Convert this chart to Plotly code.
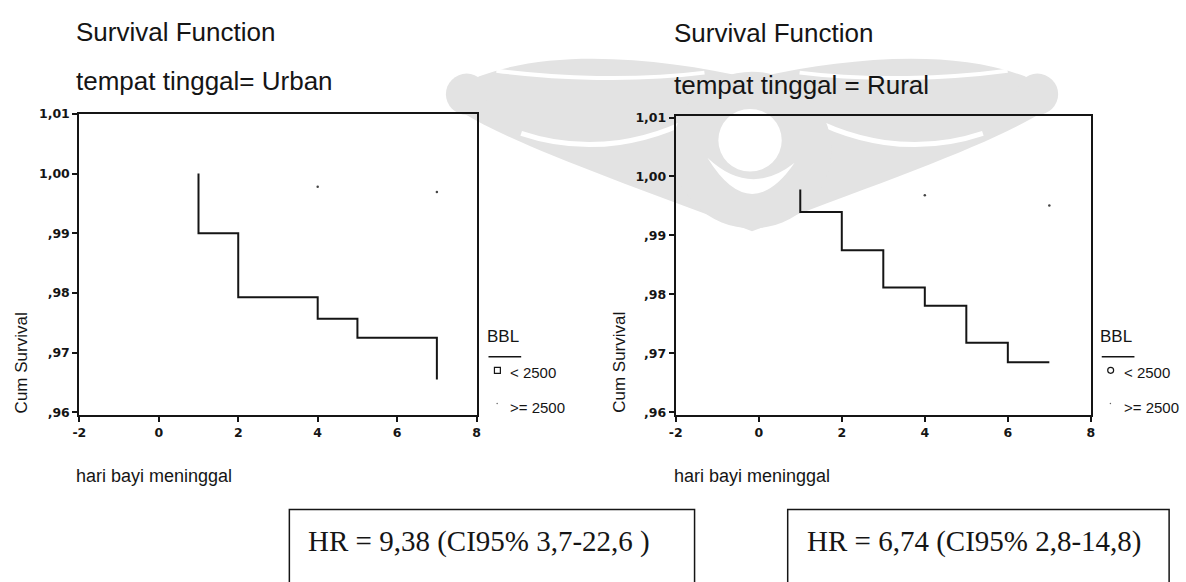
import plotly.graph_objects as go

W, H = 1186, 582

# ---------------- data ----------------
urban_time = [1, 1, 2, 4, 5, 7]
urban_surv = [1.000, 0.990, 0.9793, 0.9757, 0.9725, 0.9655]

rural_time = [1, 1, 2, 3, 4, 5, 6, 7]
rural_surv = [0.9978, 0.994, 0.9875, 0.9812, 0.9781, 0.9718, 0.9685, 0.9685]

# censored marks of the ">= 2500" group (barely visible in the scan)
urban_ge_time = [4, 7]
urban_ge_surv = [0.9978, 0.9969]
rural_ge_time = [4, 7]
rural_ge_surv = [0.9968, 0.9951]

x_ticks = [-2, 0, 2, 4, 6, 8]
x_ticktext = ["-2", "0", "2", "4", "6", "8"]
y_ticks = [0.96, 0.97, 0.98, 0.99, 1.00, 1.01]
y_ticktext = [",96", ",97", ",98", ",99", "1,00", "1,01"]

titles = ["Survival Function", "Survival Function"]
subtitles = ["tempat tinggal= Urban", "tempat tinggal = Rural"]
hr_texts = ["HR = 9,38 (CI95% 3,7-22,6 )", "HR = 6,74 (CI95% 2,8-14,8)"]
legend_title = "BBL"
legend_items = ["< 2500", ">= 2500"]
x_title = "hari bayi meninggal"
y_title = "Cum Survival"


def px(x):
    return x / W


def py(y):
    return 1 - y / H


SANS = "Liberation Sans, Arial, sans-serif"
TICK = "DejaVu Sans, sans-serif"
SERIF = "Liberation Serif, Times New Roman, serif"
INK = "#151515"
WM = "#e3e3e3"

fig = go.Figure()

fig.add_trace(go.Scatter(x=urban_time, y=urban_surv, mode="lines", line_shape="hv",
                         line=dict(color=INK, width=2), xaxis="x", yaxis="y",
                         showlegend=False))
fig.add_trace(go.Scatter(x=urban_ge_time, y=urban_ge_surv, mode="markers",
                         marker=dict(color="#444", size=2.5), xaxis="x", yaxis="y",
                         showlegend=False))
fig.add_trace(go.Scatter(x=rural_time, y=rural_surv, mode="lines", line_shape="hv",
                         line=dict(color=INK, width=2), xaxis="x2", yaxis="y2",
                         showlegend=False))
fig.add_trace(go.Scatter(x=rural_ge_time, y=rural_ge_surv, mode="markers",
                         marker=dict(color="#444", size=2.5), xaxis="x2", yaxis="y2",
                         showlegend=False))

axis_common = dict(showline=True, mirror=True, linecolor=INK, linewidth=2,
                   ticks="outside", ticklen=5, tickwidth=1.5, tickcolor=INK,
                   showgrid=False, zeroline=False,
                   tickfont=dict(family=TICK, size=12.5, color=INK, weight="bold"))

fig.update_layout(
    width=W, height=H,
    margin=dict(l=0, r=0, t=0, b=0),
    paper_bgcolor="white", plot_bgcolor="rgba(0,0,0,0)",
    xaxis=dict(domain=[px(73), px(474)], range=[-2, 8], tickvals=x_ticks,
               ticktext=x_ticktext, anchor="y", **axis_common),
    yaxis=dict(domain=[py(416), py(108)], range=[0.9595, 1.01], tickvals=y_ticks,
               ticktext=y_ticktext, anchor="x", **axis_common),
    xaxis2=dict(domain=[px(675), px(1094)], range=[-2, 8], tickvals=x_ticks,
                ticktext=x_ticktext, anchor="y2", **axis_common),
    yaxis2=dict(domain=[py(416), py(110)], range=[0.9595, 1.0103], tickvals=y_ticks,
                ticktext=y_ticktext, anchor="x2", **axis_common),
)

ann = []
shapes = []
PAD = 4  # annotation box padding compensation


def text(x, y, s, size, family=SANS, xanchor="left", angle=0, weight=None):
    f = dict(family=family, size=size, color=INK)
    if weight:
        f["weight"] = weight
    xx = x - PAD if xanchor == "left" else x
    ann.append(dict(x=px(xx), y=py(y), xref="paper", yref="paper", text=s,
                    showarrow=False, xanchor=xanchor, yanchor="middle",
                    textangle=angle, font=f))


# ---------------- faint background watermark (decoration) ----------------
AX = 752  # symmetry axis of the watermark


def P(x, y):
    return f"{px(x):.5f},{py(y):.5f}"


def wm_path(cmd, fill=WM, line=None):
    d = dict(type="path", xref="paper", yref="paper", path=cmd, layer="below",
             line=dict(width=0), fillcolor=fill if fill else "rgba(0,0,0,0)")
    if line:
        d["line"] = line
    shapes.append(d)


def mirror(x):
    return 2 * AX - x


for s in (1, -1):
    X = (lambda x: x) if s == 1 else mirror
    # wing
    wm_path(f"M {P(X(752), 72)} C {P(X(840), 52)} {P(X(950), 40)} {P(X(1028), 70)} "
            f"L {P(X(1046), 106)} C {P(X(990), 140)} {P(X(900), 172)} {P(X(752), 228)} Z")
    # blob at wing tip
    cx, cy, r = X(1040), 88, 21
    shapes.append(dict(type="circle", xref="paper", yref="paper", layer="below",
                       x0=px(cx - r), x1=px(cx + r), y0=py(cy + r), y1=py(cy - r),
                       fillcolor=WM, line=dict(width=0)))
    # white swooshes inside the wing
    wm_path(f"M {P(X(790), 100)} C {P(X(850), 140)} {P(X(920), 150)} {P(X(985), 128)}",
            fill=None, line=dict(color="white", width=5))
    wm_path(f"M {P(X(800), 66)} C {P(X(870), 75)} {P(X(950), 72)} {P(X(1010), 64)}",
            fill=None, line=dict(color="white", width=4))

# central ring
shapes.append(dict(type="circle", xref="paper", yref="paper", layer="below",
                   x0=px(AX - 80), x1=px(AX + 80), y0=py(145 + 80), y1=py(145 - 80),
                   fillcolor=WM, line=dict(width=0)))
shapes.append(dict(type="circle", xref="paper", yref="paper", layer="below",
                   x0=px(750 - 32), x1=px(750 + 32), y0=py(135 + 32), y1=py(135 - 32),
                   fillcolor="white", line=dict(width=0)))
# white crescent under the inner circle
wm_path(f"M {P(707, 153)} Q {P(750, 224)} {P(795, 158)} Q {P(750, 194)} {P(707, 153)} Z",
        fill="white")

# titles
text(72, 24, titles[0], 26)
text(72, 75, subtitles[0], 26)
text(675, 26, titles[1], 26)
text(675, 79, subtitles[1], 26)
text(72, 478, x_title, 18)
text(675, 478, x_title, 18)

# y axis titles
text(15, 362, y_title, 17, xanchor="center", angle=-90)
text(618, 362, y_title, 17, xanchor="center", angle=-90)

# legends
for lx, sym in [(486, "square"), (1105, "circle")]:
    text(lx, 335, legend_title, 17)
    shapes.append(dict(type="line", xref="paper", yref="paper",
                       x0=px(lx), x1=px(lx + 33), y0=py(356), y1=py(356),
                       line=dict(color=INK, width=1.5)))
    cx, cy = lx + 9, 370
    shapes.append(dict(type="rect" if sym == "square" else "circle",
                       xref="paper", yref="paper",
                       x0=px(cx - 3), x1=px(cx + 3), y0=py(cy + 3), y1=py(cy - 3),
                       line=dict(color=INK, width=1.2)))
    text(lx + 24, 372, legend_items[0], 15)
    text(lx + 24, 408, legend_items[1], 15)
    shapes.append(dict(type="circle", xref="paper", yref="paper",
                       x0=px(lx + 8), x1=px(lx + 9.5), y0=py(404.5), y1=py(403),
                       fillcolor="#666", line=dict(width=0)))

# HR boxes
for (x0, x1), t in zip([(285, 694), (788, 1173)], hr_texts):
    shapes.append(dict(type="rect", xref="paper", yref="paper",
                       x0=px(x0), x1=px(x1), y0=py(600), y1=py(512),
                       line=dict(color=INK, width=1.5)))
    text(x0 + 21, 545, t, 29, family=SERIF)

fig.update_layout(annotations=ann, shapes=shapes)

fig.write_html("out.html")
